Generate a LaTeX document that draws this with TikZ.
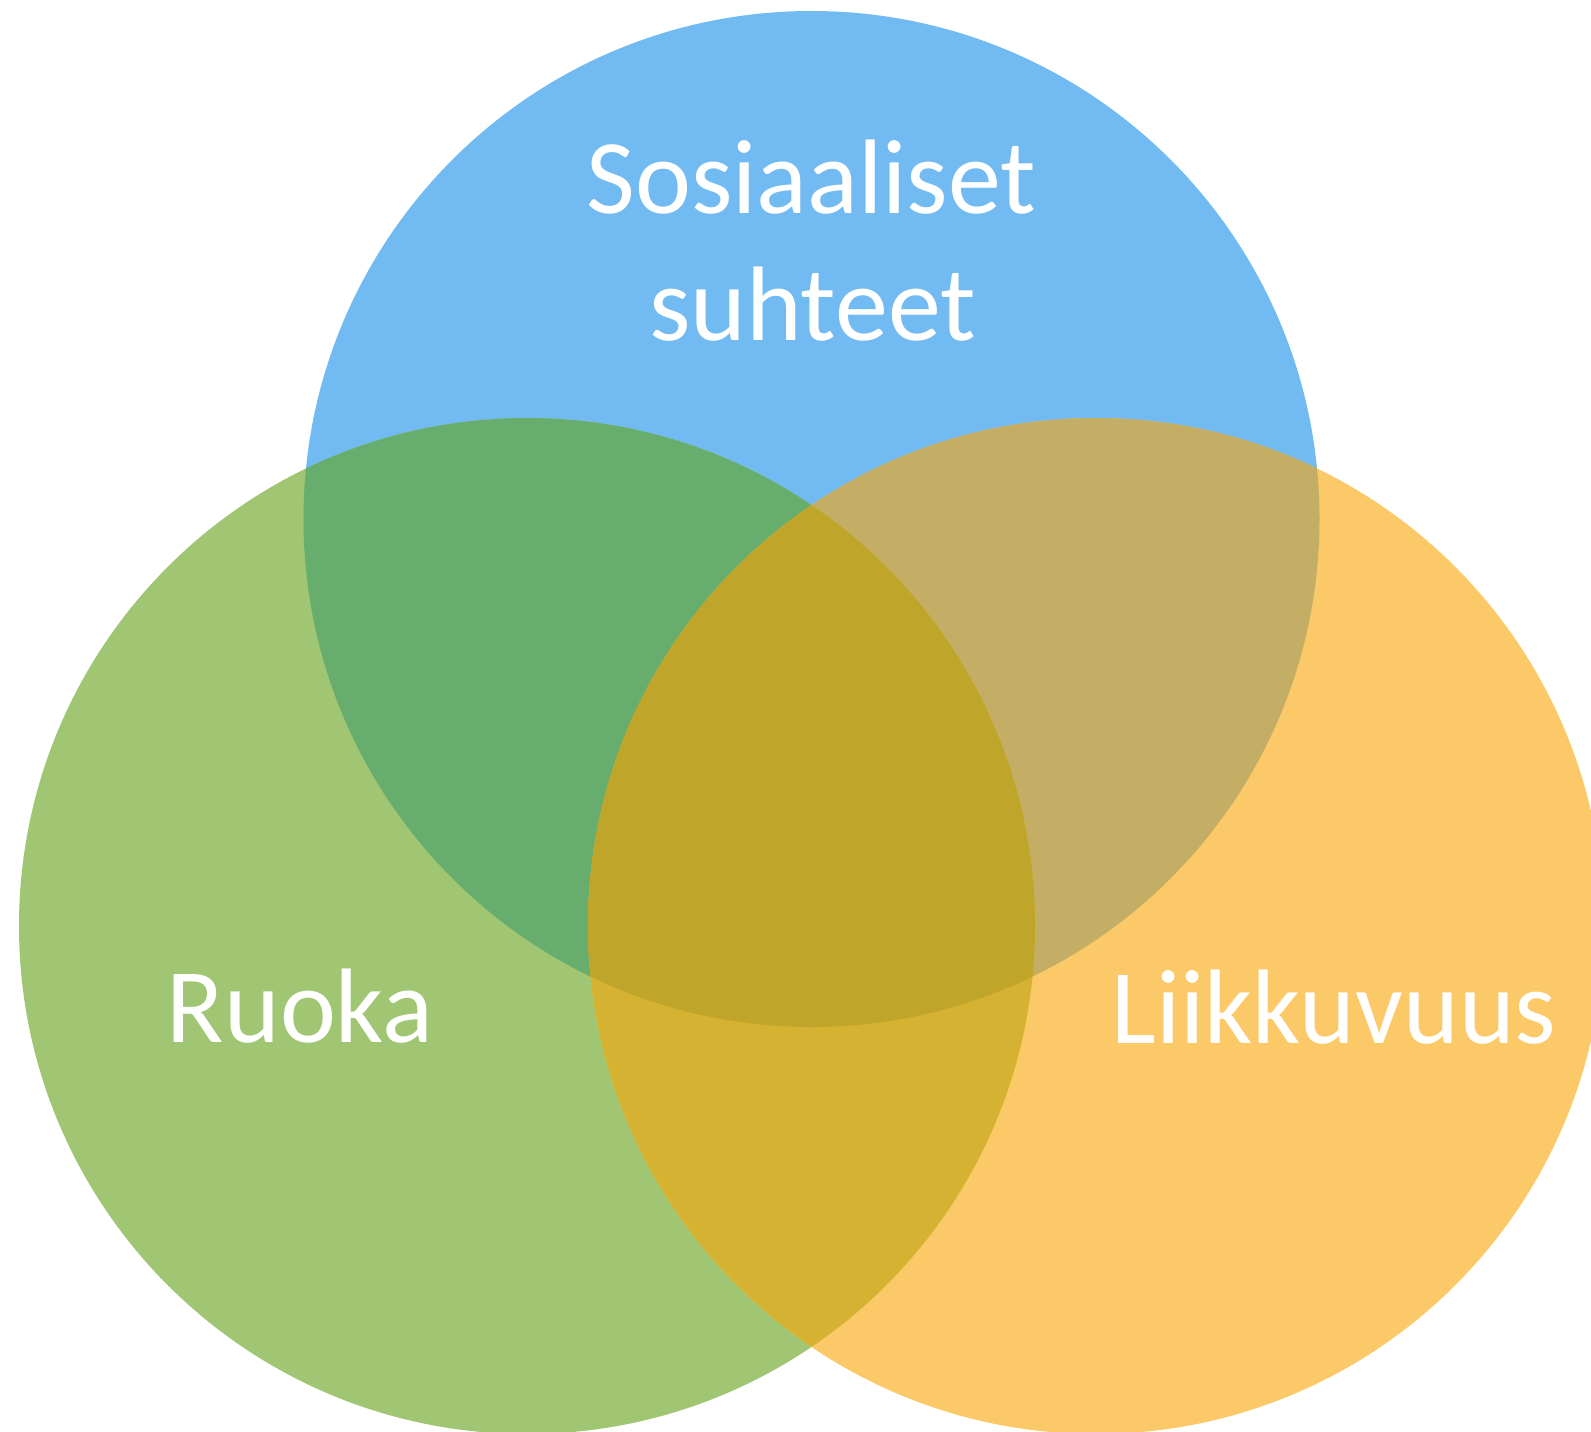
\documentclass[tikz,border=0pt]{standalone}
\usepackage{fontspec}
\setmainfont{Carlito}
\definecolor{cblue}{RGB}{114,187,242}
\definecolor{cgreen}{RGB}{160,198,115}
\definecolor{corange}{RGB}{252,201,104}
\definecolor{cbg}{RGB}{102,173,110}
\definecolor{cbo}{RGB}{196,174,102}
\definecolor{cgo}{RGB}{214,178,50}
\definecolor{cbgo}{RGB}{192,165,43}
\begin{document}
\begin{tikzpicture}[x=0.5pt,y=-0.5pt,
  lbl/.style={text=white,inner sep=0pt,anchor=base,font=\fontsize{53pt}{63.5pt}\selectfont}]
\useasboundingbox (0,0) rectangle (1591,1431);
\clip (0,0) rectangle (1591,1431);
\coordinate (B) at (811.5,519);
\coordinate (G) at (527,926);
\coordinate (O) at (1096,926);
\def\R{254pt}
\fill[cblue] (B) circle[radius=\R];
\fill[cgreen] (G) circle[radius=\R];
\fill[corange] (O) circle[radius=\R];
\begin{scope}
  \clip (B) circle[radius=\R];
  \fill[cbg] (G) circle[radius=\R];
  \fill[cbo] (O) circle[radius=\R];
\end{scope}
\begin{scope}
  \clip (G) circle[radius=\R];
  \fill[cgo] (O) circle[radius=\R];
  \clip (B) circle[radius=\R];
  \fill[cbgo] (O) circle[radius=\R];
\end{scope}
\node[lbl] (s1) at (811.5,213) {Sosiaaliset};
\node[lbl] (s2) at (812.5,340) {suhteet};
\node[lbl] (r) at (300,1042) {Ruoka};
\node[lbl] (l) at (1334,1043) {Liikkuvuus};
\end{tikzpicture}
\end{document}
